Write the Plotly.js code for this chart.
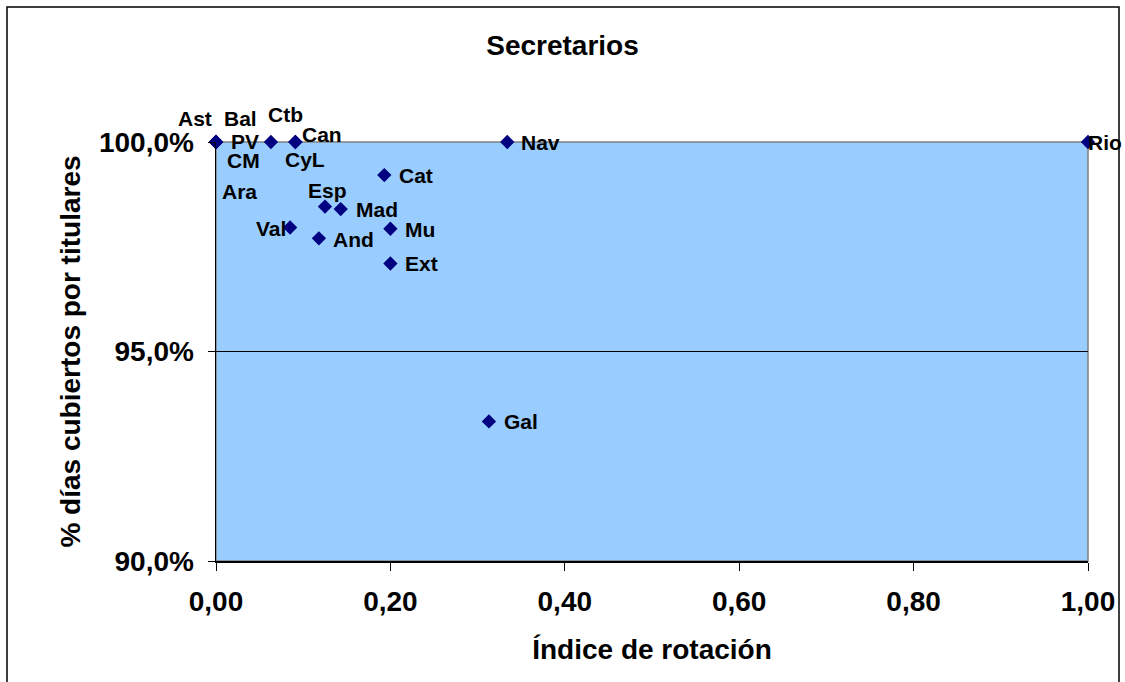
<!DOCTYPE html>
<html>
<head>
<meta charset="utf-8">
<script src="https://cdn.plot.ly/plotly-3.0.1.min.js"></script>
<style>
  html, body { margin: 0; padding: 0; background: #ffffff; }
  #chart { width: 1125px; height: 682px; }
</style>
</head>
<body>
<div id="chart"></div>
<script>
// ---- Data ----
const regions = ['Ast','Bal','PV','CM','Ara','Ctb','Can','CyL','Nav','Rio','Cat','Esp','Mad','Val','And','Mu','Ext','Gal'];
const rotationIndex = [0, 0, 0, 0, 0, 0.063, 0.091, 0.091, 0.334, 1.0, 0.193, 0.125, 0.143, 0.085, 0.118, 0.200, 0.200, 0.313];
const coveragePct = [100, 100, 100, 100, 100, 100, 100, 100, 100, 100, 99.21, 98.46, 98.40, 97.96, 97.70, 97.93, 97.10, 93.33];

const chartTitle = 'Secretarios';
const xTitle = 'Índice de rotación';
const yTitle = '% días cubiertos por titulares';
const xTicks = [0, 0.2, 0.4, 0.6, 0.8, 1.0];
const yTicks = [90, 95, 100];
const yTickText = yTicks.map(v => v.toFixed(1).replace('.', ',') + '%');

// label placement (pixel offsets from each point, like dragged Excel labels)
const labelDx = [-21, 24, 29, 27, 23, 15, 27, 10, 33, 17, 32, 2, 36, -19, 35, 30, 31, 32];
const labelDy = [-24, -24, -1, 18, 49, -28, -8, 17, 0, 0, 0, -16, 0, 1, 1, 1, 0, 0];

const FONT = 'Liberation Sans, Arial, sans-serif';

const trace = {
  type: 'scatter',
  mode: 'markers',
  x: rotationIndex,
  y: coveragePct,
  text: regions,
  cliponaxis: false,
  marker: { symbol: 'diamond', size: 11, color: '#000080', line: { width: 0 } },
  hoverinfo: 'text+x+y'
};

const annotations = regions.map((r, i) => ({
  x: rotationIndex[i], y: coveragePct[i], xref: 'x', yref: 'y',
  text: r, showarrow: false,
  xanchor: 'center', yanchor: 'middle',
  xshift: labelDx[i], yshift: -labelDy[i],
  font: { family: FONT, size: 21, weight: 'bold', color: '#000000' }
}));

// plot area in px: x 216..1088, y 142..561
const W = 872, H = 419;
const shapes = [
  // plot area border (grey)
  { type: 'rect', xref: 'paper', yref: 'paper', x0: 0, x1: 1, y0: 0, y1: 1,
    line: { color: '#808080', width: 1.5 }, layer: 'between' },
  // outer chart border
  { type: 'rect', xref: 'paper', yref: 'paper',
    x0: (7 - 216) / W, x1: (1119 - 216) / W, y0: (561 - 700) / H, y1: (561 - 7) / H,
    line: { color: '#000000', width: 1.5 }, layer: 'below' }
];

const layout = {
  width: 1125, height: 682,
  margin: { l: 216, r: 37, t: 142, b: 121, pad: 0 },
  paper_bgcolor: '#ffffff',
  plot_bgcolor: '#99ccff',
  separators: ',.',
  showlegend: false,
  title: {
    text: chartTitle, xref: 'container', x: 0.5, xanchor: 'center',
    yref: 'container', y: 1 - 45 / 682, yanchor: 'middle',
    font: { family: FONT, size: 28, weight: 'bold', color: '#000000' }
  },
  xaxis: {
    range: [0, 1], tickvals: xTicks, tickformat: '.2f',
    showgrid: false, zeroline: false,
    showline: true, linecolor: '#000000', linewidth: 1.5,
    ticks: 'outside', ticklen: 8, tickwidth: 1, tickcolor: '#000000',
    ticklabelstandoff: 7,
    tickfont: { family: FONT, size: 28, weight: 'bold', color: '#000000' },
    title: { text: xTitle, standoff: 23,
      font: { family: FONT, size: 28, weight: 'bold', color: '#000000' } }
  },
  yaxis: {
    range: [90, 100], tickvals: yTicks, ticktext: yTickText,
    showgrid: true, gridcolor: '#000000', gridwidth: 1, zeroline: false,
    showline: true, linecolor: '#000000', linewidth: 1.5,
    ticks: 'outside', ticklen: 7, tickwidth: 1, tickcolor: '#000000',
    ticklabelstandoff: 8,
    tickfont: { family: FONT, size: 28, weight: 'bold', color: '#000000' },
    title: { text: yTitle, standoff: 10,
      font: { family: FONT, size: 28, weight: 'bold', color: '#000000' } }
  },
  shapes: shapes,
  annotations: annotations
};

Plotly.newPlot('chart', [trace], layout, { displayModeBar: false, staticPlot: true });
</script>
</body>
</html>
